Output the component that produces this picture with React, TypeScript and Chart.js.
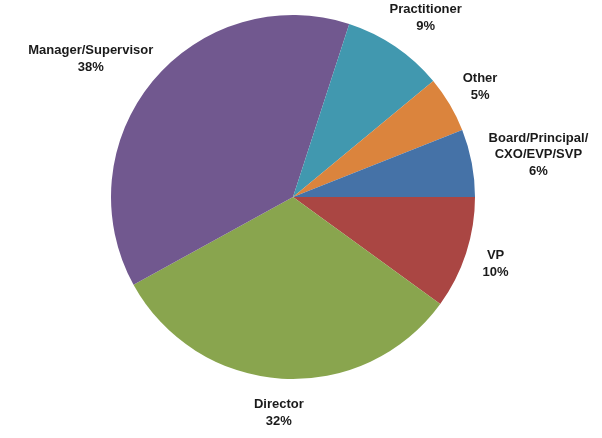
import React, { useEffect, useRef } from "react";
import { Chart, registerables } from "chart.js";

Chart.register(...registerables);

const categories = ["VP", "Director", "Manager/Supervisor", "Practitioner", "Other", "Board/Principal/\nCXO/EVP/SVP"];
const values = [10, 32, 38, 9, 5, 6];
const colors = ["#AA4643", "#89A54E", "#71588F", "#4198AF", "#DB843D", "#4572A7"];

const labelPlugin = {
  id: "outsideLabels",
  afterDatasetsDraw(chart: any) {
    const ctx = chart.ctx;
    const meta = chart.getDatasetMeta(0);
    const total = values.reduce((a, b) => a + b, 0);
    ctx.save();
    ctx.font = "bold 13px 'Liberation Sans', Arial, sans-serif";
    ctx.fillStyle = "#1a1a1a";
    ctx.textAlign = "center";
    ctx.textBaseline = "middle";
    const lh = 16.5;
    meta.data.forEach((arc: any, i: number) => {
      const { x, y, startAngle, endAngle, outerRadius } = arc.getProps(["x", "y", "startAngle", "endAngle", "outerRadius"], true);
      const mid = (startAngle + endAngle) / 2;
      const lines = categories[i].split("\n").concat([Math.round((values[i] / total) * 100) + "%"]);
      const w = Math.max(...lines.map((l) => ctx.measureText(l).width));
      const h = lines.length * lh;
      const gap = 18;
      const ax = x + Math.cos(mid) * (outerRadius + gap);
      const ay = y + Math.sin(mid) * (outerRadius + gap);
      const cx = ax + Math.cos(mid) * (w / 2);
      const cy = ay + Math.sin(mid) * (h / 2);
      lines.forEach((l, k) => {
        ctx.fillText(l, cx, cy - h / 2 + lh / 2 + k * lh);
      });
    });
    ctx.restore();
  },
};

export default function App() {
  const ref = useRef<HTMLCanvasElement>(null);
  useEffect(() => {
    const chart = new Chart(ref.current!, {
      type: "pie",
      data: {
        labels: categories.map((c) => c.replace("\n", "")),
        datasets: [
          {
            data: values,
            backgroundColor: colors,
            borderWidth: 0,
          },
        ],
      },
      options: {
        animation: false,
        responsive: false,
        rotation: 90,
        layout: { padding: { left: 111, right: 127, top: 15, bottom: 59 } },
        plugins: { legend: { display: false }, tooltip: { enabled: false } },
      },
      plugins: [labelPlugin],
    });
    return () => chart.destroy();
  }, []);
  return (
    <div style={{ position: "fixed", left: 0, top: 0, width: 602, height: 438, background: "#fff" }}>
      <canvas ref={ref} width={602} height={438} style={{ width: 602, height: 438 }} />
    </div>
  );
}
